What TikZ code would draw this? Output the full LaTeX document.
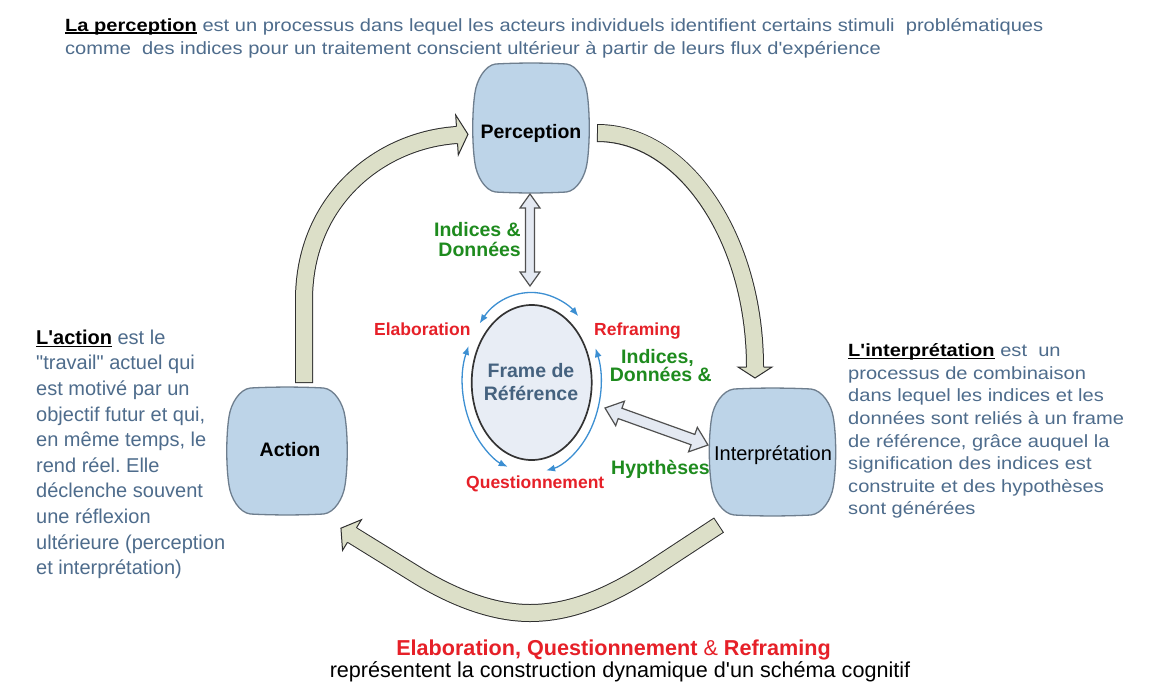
\documentclass[tikz,border=0pt]{standalone}
\usepackage{fontspec}
\setmainfont{Liberation Sans}
\newfontfamily\plainfont{Liberation Sans}
\newfontfamily\widefont[FakeStretch=1.135]{Liberation Sans}
\usetikzlibrary{arrows.meta,calc,shapes.geometric}
\definecolor{nodefill}{HTML}{BDD4E8}
\definecolor{nodeline}{HTML}{6E7E8E}
\definecolor{arrfill}{HTML}{DCDFC8}
\definecolor{arrline}{HTML}{2E2E2E}
\definecolor{hollowfill}{HTML}{E4E9F2}
\definecolor{hollowline}{HTML}{505050}
\definecolor{framefill}{HTML}{E8EDF5}
\definecolor{frametext}{HTML}{45627F}
\definecolor{desc}{HTML}{4E6C8C}
\definecolor{grn}{HTML}{1E8B1E}
\definecolor{rd}{HTML}{E62028}
\definecolor{arcblue}{HTML}{3C8FD2}
\frenchspacing
\newcommand\myul[1]{\setbox0\hbox{#1}\rlap{\color{black}\rule[-2.6pt]{\wd0}{1.4pt}}\box0\relax}
\newcommand\bigarrow[1]{\draw[bigout] #1; \draw[bigin] #1;}
\newcommand\hollowarr[5]{%
\draw[hollowarrow] (#1)
 -- ($(#1)!#3!(#2)!#4!90:(#2)$)
 -- ($(#1)!#3!(#2)!#5!90:(#2)$)
 -- ($(#2)!#3!(#1)!#5!-90:(#1)$)
 -- ($(#2)!#3!(#1)!#4!-90:(#1)$)
 -- (#2)
 -- ($(#2)!#3!(#1)!#4!90:(#1)$)
 -- ($(#2)!#3!(#1)!#5!90:(#1)$)
 -- ($(#1)!#3!(#2)!#5!-90:(#2)$)
 -- ($(#1)!#3!(#2)!#4!-90:(#2)$)
 -- cycle;}
\tikzset{
  pics/barrel/.style 2 args={code={
    \path[fill=nodefill, draw=nodeline, line width=1.3pt]
    ({0.6*#1},{#2}) .. controls ({0.78*#1},{0.98*#2}) and ({0.92*#1},{0.75*#2}) .. ({0.95*#1},{0.55*#2})
    .. controls ({1.0*#1},{0.25*#2}) and ({1.0*#1},{-0.25*#2}) .. ({0.95*#1},{-0.55*#2})
    .. controls ({0.92*#1},{-0.75*#2}) and ({0.78*#1},{-0.98*#2}) .. ({0.6*#1},{-#2})
    .. controls ({0.2*#1},{-1.02*#2}) and ({-0.2*#1},{-1.02*#2}) .. ({-0.6*#1},{-#2})
    .. controls ({-0.78*#1},{-0.98*#2}) and ({-0.92*#1},{-0.75*#2}) .. ({-0.95*#1},{-0.55*#2})
    .. controls ({-1.0*#1},{-0.25*#2}) and ({-1.0*#1},{0.25*#2}) .. ({-0.95*#1},{0.55*#2})
    .. controls ({-0.92*#1},{0.75*#2}) and ({-0.78*#1},{0.98*#2}) .. ({-0.6*#1},{#2})
    .. controls ({-0.2*#1},{1.02*#2}) and ({0.2*#1},{1.02*#2}) .. ({0.6*#1},{#2}) -- cycle;
  }},
  pics/bighead/.style 2 args={code={
    \fill[arrfill] (-0.6,-8) -- (0,-8) -- (0,-#1) -- (#2,0) -- (0,#1) -- (0,8) -- (-0.6,8) -- cycle;
    \draw[arrline, line width=1pt, line join=miter] (0,8.5) -- (0,#1) -- (#2,0) -- (0,-#1) -- (0,-8.5);
  }},
  bigout/.style={draw=arrline, line width=18pt},
  bigin/.style={draw=arrfill, line width=16pt, shorten <=1pt},
  hollowarrow/.style={fill=hollowfill, draw=hollowline, line width=1.2pt, line join=miter},
  bluearc/.style={draw=arcblue, line width=1.3pt, {Latex[length=9pt,width=7pt]}-{Latex[length=9pt,width=7pt]}},
  boxlbl/.style={inner sep=0, font=\bfseries\fontsize{19.5}{22}\selectfont, text=black},
  glbl/.style={inner sep=0, font=\bfseries\fontsize{19.5}{22}\selectfont, text=grn},
  rlbl/.style={inner sep=0, font=\bfseries\fontsize{17.5}{20}\selectfont, text=rd},
  desctxt/.style={inner sep=0, text=desc, anchor=base west},
}
\begin{document}
\begin{tikzpicture}[x=1pt,y=-1pt]
\fill[white] (0,0) rectangle (1168,697);
\useasboundingbox (0,0) rectangle (1168,697);

% big curved arrows
\coordinate (a1s) at (304,383);
\coordinate (a1e) at (457,135);
\bigarrow{(a1s) -- (304,300) .. controls (304,200) and (380,140) .. (a1e)}
\pic[rotate=3.7] at (a1e) {bighead={20}{11}};

\coordinate (a2s) at (597,133);
\coordinate (a2e) at (755,367);
\bigarrow{(a2s) .. controls (684,133) and (755,238) .. (a2e)}
\pic[rotate=-90] at (a2e) {bighead={17}{11}};

\coordinate (a3s) at (719,525);
\coordinate (a3e) at (352,535);
\bigarrow{(a3s) -- (655,567) .. controls (610,597) and (570,613) .. (530,613) .. controls (490,613) and (450,595) .. (420,577) -- (a3e)}
\pic[rotate=148.3] at (a3e) {bighead={18}{13}};

% boxes
\pic at (531,128) {barrel={59}{64}};
\node[boxlbl, anchor=base] (perc) at (531,138.3) {Perception};
\pic at (287,451) {barrel={61}{63}};
\node[boxlbl, anchor=base] (act) at (290,456) {Action};
\pic at (772.5,452) {barrel={64}{63}};
\node[inner sep=0, font=\fontsize{20}{22}\selectfont, anchor=base] (interp) at (773,460) {Interprétation};

% frame of reference
\coordinate (fc) at (531.7,382.5);
\node[ellipse, draw=black!80, line width=1.7pt, fill=framefill, minimum width=120pt, minimum height=155pt, inner sep=0] (frame) at (fc) {};
\node[inner sep=0, font=\bfseries\fontsize{19.5}{22}\selectfont, text=frametext, anchor=base] (fr1) at (531,377) {Frame de};
\node[inner sep=0, font=\bfseries\fontsize{19.5}{22}\selectfont, text=frametext, anchor=base] (fr2) at (531,400) {Référence};

% blue arcs
\draw[bluearc] ($(fc)+(-139:69 and 90)$) arc[start angle=-139, end angle=-47.5, x radius=69, y radius=90];
\draw[bluearc] ($(fc)+(-156:69 and 90)$) arc[start angle=-156, end angle=-249.6, x radius=69, y radius=90];
\draw[bluearc] ($(fc)+(-22.4:69 and 90)$) arc[start angle=-22.4, end angle=78, x radius=69, y radius=90];

% hollow double arrows
\coordinate (h1a) at (530,194);
\coordinate (h1b) at (530,286);
\hollowarr{h1a}{h1b}{14pt}{10pt}{4.5pt}
\coordinate (h2a) at (605,408);
\coordinate (h2b) at (708,445);
\hollowarr{h2a}{h2b}{16pt}{13pt}{5.5pt}

% labels
\node[glbl, anchor=base east] (ind1) at (521,236) {Indices \&};
\node[glbl, anchor=base east] (ind2) at (521,256) {Données};
\node[rlbl, anchor=base west] (elab) at (374,335) {Elaboration};
\node[rlbl, anchor=base west] (refr) at (594,335) {Reframing};
\node[glbl, anchor=base] (ind3) at (657.5,363) {Indices,};
\node[glbl, anchor=base] (ind4) at (660.8,381) {Données \&};
\node[glbl, anchor=base west] (hyp) at (611,474) {Hypthèses};
\node[rlbl, anchor=base west] (quest) at (466,488.5) {Questionnement};

% top text
\node[desctxt, font=\widefont\fontsize{17.7}{22.6}\selectfont] (ptxt1) at (65,31) {\myul{\textcolor{black}{\textbf{La perception}}} est un processus dans lequel les acteurs individuels identifient certains stimuli\ \ problématiques};
\node[desctxt, font=\widefont\fontsize{17.7}{22.6}\selectfont] (ptxt2) at (65,54) {comme\ \ des indices pour un traitement conscient ultérieur à partir de leurs flux d'expérience};

% left text
\node[desctxt, font=\plainfont\fontsize{20}{25.6}\selectfont] (atxt) at (36,344.3) {\vtop{\baselineskip=25.6pt
\hbox{\myul{\textcolor{black}{\textbf{L'action}}} est le}
\hbox{"travail" actuel qui}
\hbox{est motivé par un}
\hbox{objectif futur et qui,}
\hbox{en même temps, le}
\hbox{rend réel. Elle}
\hbox{déclenche souvent}
\hbox{une réflexion}
\hbox{ultérieure (perception}
\hbox{et interprétation)}}};

% right text
\node[desctxt, font=\widefont\fontsize{17.7}{22.6}\selectfont] (itxt) at (848,356.7) {\vtop{\baselineskip=22.6pt
\hbox{\myul{\textcolor{black}{\textbf{L'interprétation}}} est\ \ un}
\hbox{processus de combinaison}
\hbox{dans lequel les indices et les}
\hbox{données sont reliés à un frame}
\hbox{de référence, grâce auquel la}
\hbox{signification des indices est}
\hbox{construite et des hypothèses}
\hbox{sont générées}}};

% bottom text
\node[inner sep=0, anchor=base, font=\plainfont\fontsize{21.6}{24}\selectfont, text=rd] (bt1) at (613.5,655) {\textbf{Elaboration, Questionnement} \& \textbf{Reframing}};
\node[inner sep=0, anchor=base, font=\plainfont\fontsize{21.6}{24}\selectfont, text=black] (bt2) at (620,677) {représentent la construction dynamique d'un schéma cognitif};
\end{tikzpicture}
\end{document}
